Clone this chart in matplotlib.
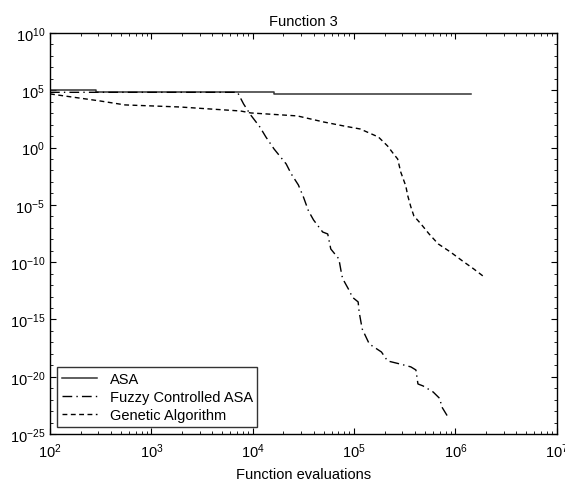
import matplotlib
matplotlib.use("Agg")
import matplotlib.pyplot as plt
import numpy as np
from matplotlib.ticker import FixedLocator, NullFormatter, LogLocator

plt.rcParams.update({
    "font.family": ["Liberation Sans", "DejaVu Sans"],
    "font.size": 9,
    "xtick.direction": "in", "ytick.direction": "in",
    "xtick.top": True, "ytick.right": True,
    "axes.linewidth": 1.0,
    "axes.unicode_minus": False,
})

# values, as log10(evaluations), log10(best value)
asa_lx = [2.0, 2.45, 2.45, 4.21, 4.21, 6.15]
asa_ly = [5.05, 5.05, 4.82, 4.82, 4.68, 4.68]

fuzzy_lx = [2.0, 3.85, 3.91, 3.98, 4.07, 4.13, 4.21, 4.33, 4.38, 4.45, 4.50, 4.55,
            4.60, 4.69, 4.74, 4.77, 4.85, 4.88, 4.90, 4.96, 4.98, 5.04, 5.05, 5.08,
            5.15, 5.27, 5.33, 5.45, 5.56, 5.61, 5.63, 5.68, 5.78, 5.85, 5.86, 5.92]
fuzzy_ly = [4.82, 4.82, 3.80, 2.84, 1.80, 0.92, -0.12, -1.43, -2.30, -3.26, -4.31, -5.53,
            -6.32, -7.37, -7.54, -8.85, -9.72, -11.2, -11.64, -12.6, -13.04, -13.47, -14.35, -15.83,
            -17.14, -17.84, -18.62, -18.88, -19.14, -19.41, -20.63, -20.80, -21.33, -21.94, -22.55, -23.42]

ga_lx = [2.0, 2.49, 2.74, 3.28, 3.88, 3.98, 4.44, 4.70, 4.90, 5.06, 5.24, 5.33,
         5.39, 5.43, 5.46, 5.51, 5.53, 5.56, 5.59, 5.66, 5.74, 5.83, 5.95, 6.07,
         6.18, 6.27]
ga_ly = [4.68, 4.07, 3.72, 3.54, 3.19, 3.02, 2.76, 2.23, 1.88, 1.62, 0.92, 0.14,
         -0.56, -1.0, -2.13, -3.35, -4.22, -5.18, -5.97, -6.67, -7.54, -8.41, -9.11, -9.90,
         -10.59, -11.2]

fig = plt.figure(figsize=(5.65, 4.85), dpi=100)
ax = fig.add_axes([0.0885, 0.103, 0.897, 0.827])

ax.plot(10 ** np.array(asa_lx), 10 ** np.array(asa_ly), color="#333333", lw=1.1,
        label="ASA")
ax.plot(10 ** np.array(fuzzy_lx), 10 ** np.array(fuzzy_ly), color="black", lw=1.0,
        dashes=(7, 3, 1, 3), label="Fuzzy Controlled ASA")
ax.plot(10 ** np.array(ga_lx), 10 ** np.array(ga_ly), color="black", lw=1.0,
        dashes=(3.5, 2.5), label="Genetic Algorithm")

ax.set_xscale("log")
ax.set_yscale("log")
ax.set_xlim(1e2, 1e7)
ax.set_ylim(1e-25, 1e10)
ax.yaxis.set_major_locator(FixedLocator([10.0 ** k for k in range(-25, 11, 5)]))
ax.yaxis.set_minor_locator(FixedLocator([10.0 ** k for k in range(-25, 11)]))
ax.yaxis.set_minor_formatter(NullFormatter())
ax.xaxis.set_major_locator(LogLocator(base=10, numticks=10))
ax.xaxis.set_minor_locator(LogLocator(base=10, subs=np.arange(2, 10), numticks=20))
ax.xaxis.set_minor_formatter(NullFormatter())
ax.tick_params(which="major", length=4, labelsize=10.5)
ax.tick_params(which="minor", length=2.5)
ax.tick_params(axis="x", pad=5)

ax.set_title("Function 3", fontsize=10.5, pad=6)
ax.set_xlabel("Function evaluations", fontsize=10.5, labelpad=5)

leg = ax.legend(loc="lower left", fontsize=10.5, frameon=True, fancybox=False,
                edgecolor="black", borderaxespad=0.5, handlelength=2.4,
                handletextpad=0.9, labelspacing=0.3, borderpad=0.3)
leg.get_frame().set_linewidth(1.0)

fig.savefig("out.png", dpi=100)
